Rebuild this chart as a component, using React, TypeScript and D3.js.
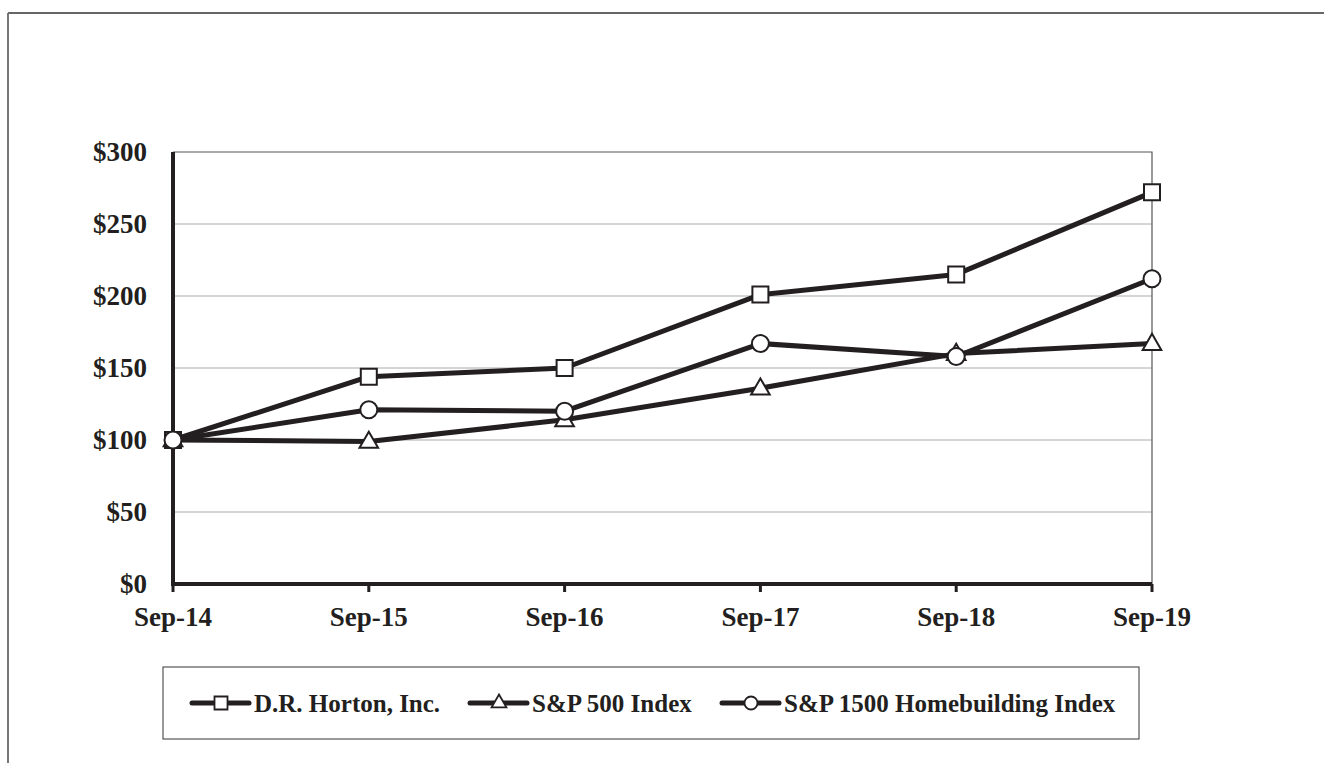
import { useEffect, useRef } from 'react'
import * as d3 from 'd3'

// data
const categories = ['Sep-14', 'Sep-15', 'Sep-16', 'Sep-17', 'Sep-18', 'Sep-19']
const horton = [100, 144, 150, 201, 215, 272]
const sp500 = [100, 99, 114, 136, 160, 167]
const homebuilding = [100, 121, 120, 167, 158, 212]
const yTicks = [0, 50, 100, 150, 200, 250, 300]

const seriesNames = ['D.R. Horton, Inc.', 'S&P 500 Index', 'S&P 1500 Homebuilding Index']
const seriesValues = [horton, sp500, homebuilding]
const seriesSymbols = [d3.symbolSquare, d3.symbolTriangle, d3.symbolCircle]

const INK = '#231f20'
const FONT = '"Liberation Serif", "Times New Roman", serif'

export default function App() {
  const ref = useRef<SVGSVGElement>(null)

  useEffect(() => {
    const width = 1324,
      height = 763
    const left = 173,
      right = 1152,
      top = 152,
      bottom = 584

    const svg = d3.select(ref.current)
    svg.selectAll('*').remove()
    svg.attr('width', width).attr('height', height)

    // outer frame (only top and left edges show)
    svg.append('line').attr('x1', 8).attr('x2', width).attr('y1', 13).attr('y2', 13)
      .attr('stroke', '#666').attr('stroke-width', 2)
    svg.append('line').attr('x1', 8).attr('x2', 8).attr('y1', 13).attr('y2', height)
      .attr('stroke', '#777').attr('stroke-width', 2)

    const x = d3.scalePoint<string>().domain(categories).range([left, right])
    const y = d3.scaleLinear().domain([0, 300]).range([bottom, top])

    // gridlines
    svg.append('g')
      .selectAll('line')
      .data(yTicks.filter(d => d > 0 && d < 300))
      .join('line')
      .attr('x1', left).attr('x2', right)
      .attr('y1', d => y(d)).attr('y2', d => y(d))
      .attr('stroke', '#aaaaaa').attr('stroke-width', 1)

    // plot border top + right
    svg.append('path')
      .attr('d', `M${left},${y(300)}H${right}V${bottom}`)
      .attr('fill', 'none').attr('stroke', '#555').attr('stroke-width', 1.2)

    // y labels
    svg.append('g')
      .selectAll('text')
      .data(yTicks)
      .join('text')
      .attr('x', 147)
      .attr('y', d => y(d))
      .attr('dy', '0.35em')
      .attr('text-anchor', 'end')
      .attr('font-family', FONT)
      .attr('font-weight', 'bold')
      .attr('font-size', 27)
      .attr('fill', INK)
      .text(d => `$${d}`)

    // x ticks + labels
    svg.append('g')
      .selectAll('line')
      .data(categories)
      .join('line')
      .attr('x1', d => x(d)!).attr('x2', d => x(d)!)
      .attr('y1', bottom).attr('y2', bottom + 8)
      .attr('stroke', INK).attr('stroke-width', 3)

    svg.append('g')
      .selectAll('text')
      .data(categories)
      .join('text')
      .attr('x', d => x(d)!)
      .attr('y', 626)
      .attr('text-anchor', 'middle')
      .attr('font-family', FONT)
      .attr('font-weight', 'bold')
      .attr('font-size', 27)
      .attr('fill', INK)
      .text(d => d)

    // axes
    svg.append('path')
      .attr('d', `M${left},${top}V${bottom}H${right}`)
      .attr('fill', 'none').attr('stroke', INK).attr('stroke-width', 4)

    const line = d3.line<number>()
      .x((_, i) => x(categories[i])!)
      .y(d => y(d))

    const markerSizes = [16 * 16, 150, Math.PI * 8.5 * 8.5]

    seriesValues.forEach((vals, s) => {
      svg.append('path')
        .datum(vals)
        .attr('d', line)
        .attr('fill', 'none')
        .attr('stroke', INK)
        .attr('stroke-width', 5)
        .attr('stroke-linejoin', 'round')

      svg.append('g')
        .selectAll('path')
        .data(vals)
        .join('path')
        .attr('d', d3.symbol().type(seriesSymbols[s]).size(markerSizes[s]))
        .attr('transform', (d, i) => `translate(${x(categories[i])},${y(d) + (s === 1 ? 1 : 0)})`)
        .attr('fill', 'white')
        .attr('stroke', INK)
        .attr('stroke-width', 2)
    })

    // legend
    svg.append('rect')
      .attr('x', 163).attr('y', 667).attr('width', 976).attr('height', 72)
      .attr('fill', 'white').attr('stroke', '#555').attr('stroke-width', 1.2)

    const legendX = [192, 470, 722]
    const legendSizes = [13 * 13, 95, Math.PI * 6.5 * 6.5]
    const ly = 703
    const lg = svg.append('g')
      .selectAll('g')
      .data(seriesNames)
      .join('g')
      .attr('transform', (_, i) => `translate(${legendX[i]},${ly})`)

    lg.append('line')
      .attr('x1', 0).attr('x2', 57).attr('y1', 0).attr('y2', 0)
      .attr('stroke', INK).attr('stroke-width', 5).attr('stroke-linecap', 'round')
    lg.append('path')
      .attr('d', (_, i) => d3.symbol().type(seriesSymbols[i]).size(legendSizes[i])()!)
      .attr('transform', 'translate(29,0)')
      .attr('fill', 'white').attr('stroke', INK).attr('stroke-width', 1.8)
    lg.append('text')
      .attr('x', 62)
      .attr('dy', '0.35em')
      .attr('font-family', FONT)
      .attr('font-weight', 'bold')
      .attr('font-size', 25)
      .attr('fill', INK)
      .text(d => d)
  }, [])

  return (
    <svg ref={ref} style={{ position: 'absolute', left: 0, top: 0, display: 'block', background: 'white' }} />
  )
}
